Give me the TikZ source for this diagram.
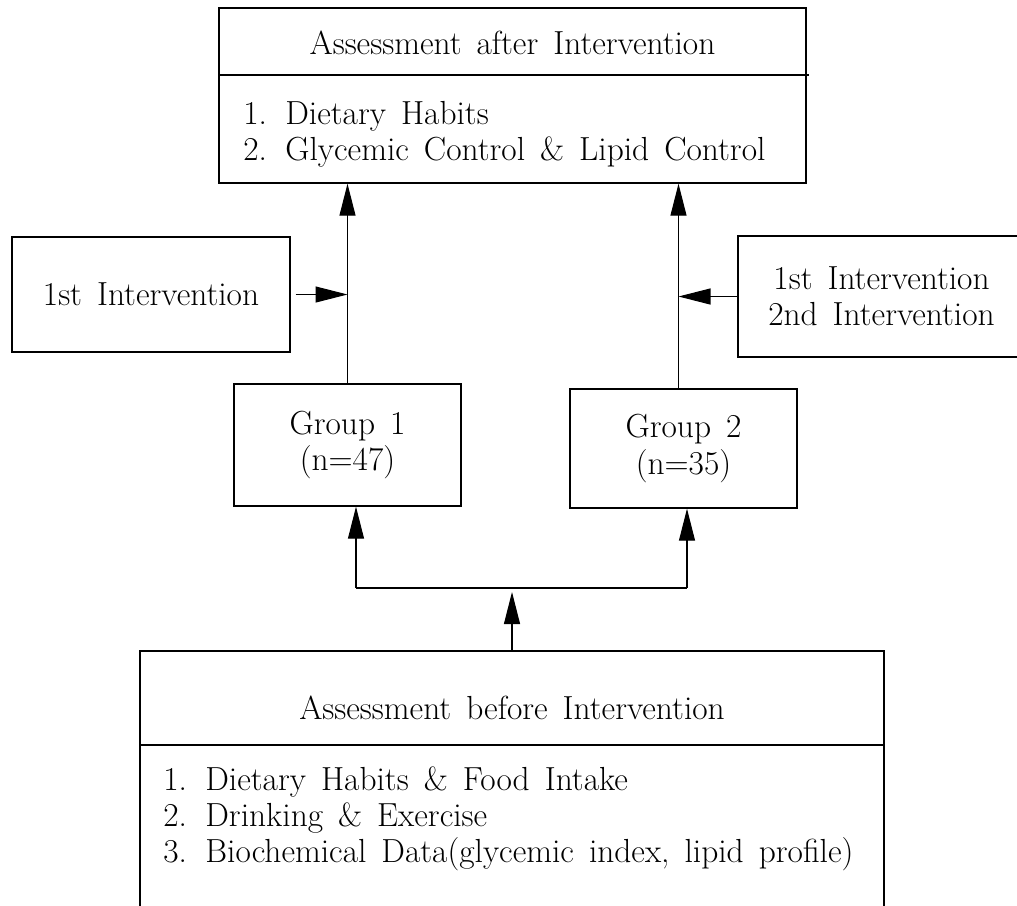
\documentclass[tikz,border=0pt]{standalone}
\usepackage{tikz}
\usetikzlibrary{arrows.meta, positioning}

\newcommand{\wordgap}{\spaceskip 0.45em plus 0.1em\relax}

\begin{document}
\begin{tikzpicture}[
        >={Triangle[length=0.64cm, width=0.32cm]},
        font={\fontsize{19}{20.5}\selectfont\wordgap},
        panel/.style={rectangle, draw, line width=0.8pt, align=center, inner sep=0pt},
        listing/.style={align=left, anchor=west, inner sep=0pt},
        arrow/.style={->, line width=0.6pt},
        branch/.style={line width=0.6pt},
    ]
    \path[use as bounding box, clip] (0,0) rectangle (20.34,-18.12);

    % --- assessment after intervention -------------------------------
    \node[panel, minimum width=11.74cm, minimum height=3.5cm] (after) at (10.25,-1.91) {};
    \node (after_title) at (10.25,-0.86) {Assessment after Intervention};
    \node[listing] (after_items) at (4.86,-2.68)
    {1. Dietary Habits\\2. Glycemic Control \& Lipid Control};
    \draw[branch] (after.west |- 0,-1.5) -- ++(11.82,0);

    % --- interventions -----------------------------------------------
    \node[panel, minimum width=5.56cm, minimum height=2.3cm] (interv1) at (3.02,-5.89) {1st Intervention};
    \node[panel, minimum width=5.74cm, minimum height=2.42cm] (interv2) at (17.63,-5.93)
    {1st Intervention\\2nd Intervention};

    % --- groups --------------------------------------------------------
    \node[panel, minimum width=4.54cm, minimum height=2.44cm] (group1) at (6.95,-8.9) {Group 1\\(n=47)};
    \node[panel, minimum width=4.54cm, minimum height=2.38cm] (group2) at (13.67,-8.97) {Group 2\\(n=35)};

    % --- assessment before intervention ------------------------------
    \node[panel, minimum width=14.88cm, minimum height=5.6cm] (before) at (10.24,-15.82) {};
    \node (before_title) at (10.24,-14.16) {Assessment before Intervention};
    \node[listing] (before_items) at (3.26,-16.38)
    {1. Dietary Habits \& Food Intake\\2. Drinking \& Exercise\\3. Biochemical Data(glycemic index, lipid profile)};
    \draw[branch] (before.west |- 0,-14.9) -- (before.east |- 0,-14.9);

    % --- forward routing ---------------------------------------------
    \coordinate (split)  at (10.24,-11.84);
    \coordinate (fork_l) at (7.12,-11.76);
    \coordinate (fork_r) at (13.74,-11.76);

    \draw[arrow] (before.north) -- (split);
    \draw[branch] (fork_l) -- (fork_r);
    \draw[arrow] (fork_l) -- (fork_l |- group1.south);
    \draw[arrow] (fork_r) -- (fork_r |- group2.south);

    \draw[arrow] (group1.north) -- (group1.north |- after.south);
    \draw[arrow] ([xshift=-1mm]group2.north) -- ([xshift=-1mm]group2.north |- after.south);

    \draw[arrow] ([xshift=1mm]interv1.east) -- (interv1.east -| group1.north);
    \draw[arrow] (interv2.west) -- ([xshift=-1mm]interv2.west -| group2.north);
\end{tikzpicture}
\end{document}
